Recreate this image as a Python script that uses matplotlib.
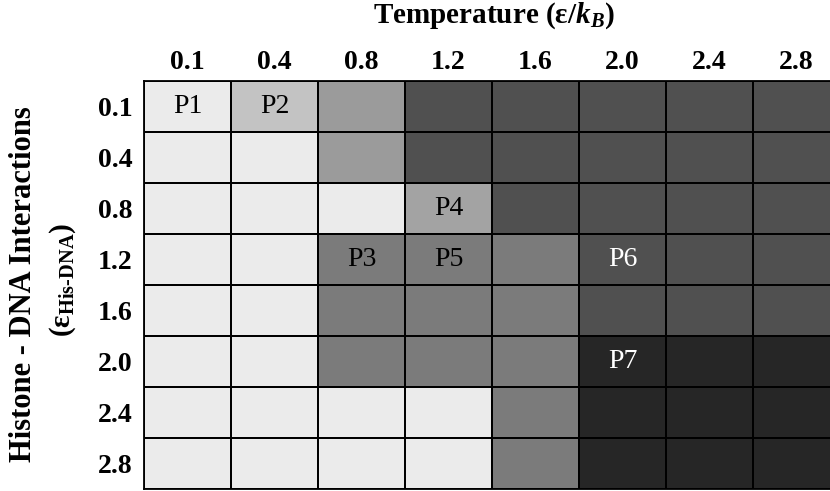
#!/usr/bin/env python3
import matplotlib as mpl
import matplotlib.pyplot as plt
import numpy as np
from matplotlib.colors import ListedColormap

mpl.rcParams["font.family"] = "Liberation Serif"
mpl.rcParams["mathtext.fontset"] = "custom"
mpl.rcParams["mathtext.rm"] = "Liberation Serif:bold"
mpl.rcParams["mathtext.it"] = "Liberation Serif:italic:bold"

temps = ["0.1", "0.4", "0.8", "1.2", "1.6", "2.0", "2.4", "2.8"]
eps_his = ["0.1", "0.4", "0.8", "1.2", "1.6", "2.0", "2.4", "2.8"]

# grey shade of each phase region
phase_colors = ["#ebebeb", "#c3c3c3", "#9b9b9b", "#a3a3a3", "#7b7b7b", "#505050", "#262626"]

# phase index per cell (rows = histone-DNA interaction, cols = temperature)
phase = np.array([
    [0, 1, 2, 5, 5, 5, 5, 5],
    [0, 0, 2, 5, 5, 5, 5, 5],
    [0, 0, 0, 3, 5, 5, 5, 5],
    [0, 0, 4, 4, 4, 5, 5, 5],
    [0, 0, 4, 4, 4, 5, 5, 5],
    [0, 0, 4, 4, 4, 6, 6, 6],
    [0, 0, 0, 0, 4, 6, 6, 6],
    [0, 0, 0, 0, 4, 6, 6, 6],
])

# cell labels: (row, col, text, colour)
cell_labels = [
    (0, 0, "P1", "black"),
    (0, 1, "P2", "black"),
    (3, 2, "P3", "black"),
    (2, 3, "P4", "black"),
    (3, 3, "P5", "black"),
    (3, 5, "P6", "white"),
    (5, 5, "P7", "white"),
]

fig = plt.figure(figsize=(8.3, 4.91), dpi=100)
ax = fig.add_axes([144 / 830, 2 / 491, 696 / 830, 408 / 491])

cmap = ListedColormap(phase_colors)
ax.pcolormesh(
    np.arange(len(temps) + 1),
    np.arange(len(eps_his) + 1),
    phase,
    cmap=cmap,
    vmin=-0.5,
    vmax=len(phase_colors) - 0.5,
    edgecolors="black",
    linewidth=1.3,
)
ax.set_xlim(0, len(temps))
ax.set_ylim(len(eps_his), 0)

for r, c, txt, col in cell_labels:
    ax.text(c + 0.5, r + 0.5, txt, ha="center", va="center", fontsize=20, color=col)

ax.xaxis.tick_top()
ax.set_xticks(np.arange(len(temps)) + 0.5)
ax.set_xticklabels(temps, fontsize=20, fontweight="bold")
ax.set_yticks(np.arange(len(eps_his)) + 0.5)
ax.set_yticklabels(eps_his, fontsize=20, fontweight="bold")
ax.tick_params(length=0, pad=8)
ax.tick_params(axis="x", pad=4)
for sp in ax.spines.values():
    sp.set_linewidth(1.3)

fig.text(494 / 830, 1 - 16 / 491, r"Temperature (ε/$\mathit{k}_{\mathit{B}}$)",
         ha="center", va="center", fontsize=21, fontweight="bold")
fig.text(24 / 830, 1 - 284 / 491, "Histone - DNA Interactions",
         ha="center", va="center", rotation=90, fontsize=22, fontweight="bold")
fig.text(63 / 830, 1 - 280 / 491, r"(ε$_{\mathrm{His\text{-}DNA}}$)",
         ha="center", va="center", rotation=90, fontsize=21, fontweight="bold")

fig.savefig("out.png", dpi=100)
